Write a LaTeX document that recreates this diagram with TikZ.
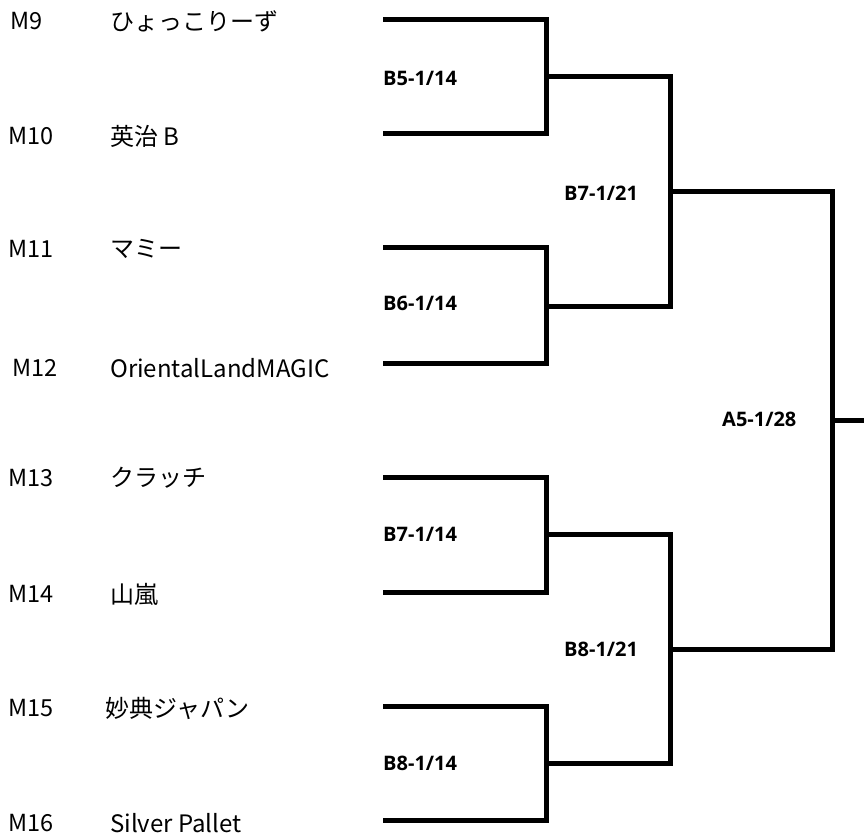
\documentclass[tikz,border=0pt]{standalone}
\usepackage{fontspec}
\setmainfont{Noto Sans CJK JP}
\newfontfamily\labfont{Open Sans}
\begin{document}
\begin{tikzpicture}[x=1pt,y=-1pt,
  br/.style={line width=5pt,line join=miter,line cap=butt},
  team/.style={anchor=west,inner sep=0pt,font=\fontsize{24}{28}\selectfont},
  seed/.style={anchor=west,inner sep=0pt,font=\fontsize{23.5}{28}\selectfont},
  rnd/.style={anchor=west,inner sep=0pt,font=\labfont\bfseries\fontsize{20}{24}\selectfont}]
\useasboundingbox (0,0) rectangle (864,834);
% seeds
\node[seed] (m9)  at (10,21)  {M9};
\node[seed] (m10) at (8,136)  {M10};
\node[seed] (m11) at (8,249)  {M11};
\node[seed] (m12) at (12,368) {M12};
\node[seed] (m13) at (8,478)  {M13};
\node[seed] (m14) at (8,594)  {M14};
\node[seed] (m15) at (8,708)  {M15};
\node[seed] (m16) at (8,823)  {M16};
% teams
\node[team] (t1) at (110,21)  {ひょっこりーず};
\node[team] (t2) at (110,136) {英治 B};
\node[team] (t3) at (110,249) {マミー};
\node[team] (t4) at (110,368) {OrientalLandMAGIC};
\node[team] (t5) at (110,478) {クラッチ};
\node[team] (t6) at (110,594) {山嵐};
\node[team] (t7) at (105,708) {妙典ジャパン};
\node[team] (t8) at (110,823) {Silver Pallet};
% bracket points
\coordinate (s1) at (383,20);
\coordinate (s2) at (383,134);
\coordinate (s3) at (383,248);
\coordinate (s4) at (383,363);
\coordinate (s5) at (383,477);
\coordinate (s6) at (383,592);
\coordinate (s7) at (383,706);
\coordinate (s8) at (383,820);
\coordinate (j1) at (546,77);
\coordinate (j2) at (546,306);
\coordinate (j3) at (546,534);
\coordinate (j4) at (546,763);
\coordinate (k1) at (670,192);
\coordinate (k2) at (670,649);
\coordinate (f)  at (832,420);
\coordinate (w)  at (864,420);
\draw[br] (s1) -| (j1) |- (s2);
\draw[br] (s3) -| (j2) |- (s4);
\draw[br] (s5) -| (j3) |- (s6);
\draw[br] (s7) -| (j4) |- (s8);
\draw[br] (j1) -| (k1) |- (j2);
\draw[br] (j3) -| (k2) |- (j4);
\draw[br] (k1) -| (f) |- (k2);
\draw[br] (f) -- (w);
% round labels
\node[rnd] (b5)  at (383,78)  {B5-1/14};
\node[rnd] (b6)  at (383,303) {B6-1/14};
\node[rnd] (b7a) at (383,534) {B7-1/14};
\node[rnd] (b8a) at (383,763) {B8-1/14};
\node[rnd] (b7)  at (564,193) {B7-1/21};
\node[rnd] (b8)  at (564,649) {B8-1/21};
\node[rnd] (a5)  at (722,419) {A5-1/28};
\end{tikzpicture}
\end{document}
